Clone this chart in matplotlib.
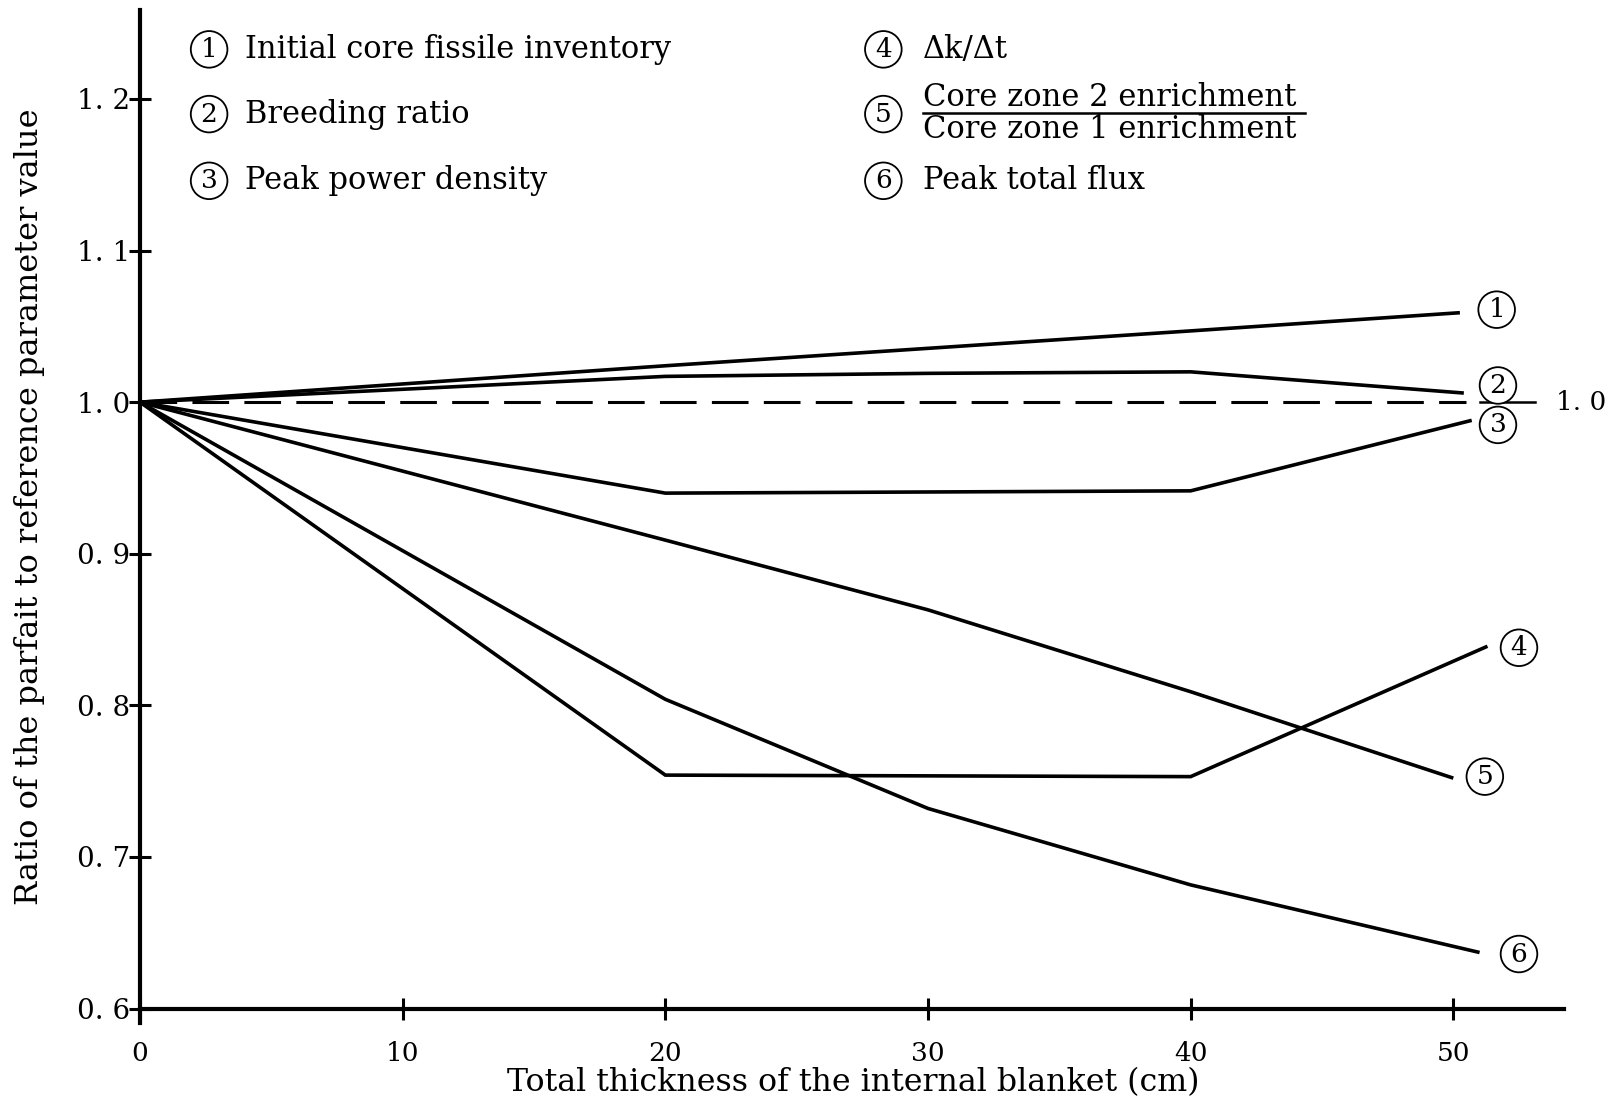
import matplotlib
matplotlib.use("Agg")
import matplotlib.pyplot as plt
from matplotlib.ticker import FuncFormatter

# blanket thickness (cm) and ratio values
x_inventory = [0, 20, 40, 50.25]
y_inventory = [1.0, 1.024, 1.047, 1.059]

x_breeding = [0, 20, 30, 40, 50.4]
y_breeding = [1.0, 1.017, 1.019, 1.02, 1.006]

x_power = [0, 20, 40, 50.7]
y_power = [1.0, 0.940, 0.9415, 0.988]

x_dkdt = [0, 20, 40, 51.3]
y_dkdt = [1.0, 0.754, 0.753, 0.839]

x_enrich = [0, 20, 30, 40, 50.0]
y_enrich = [1.0, 0.909, 0.863, 0.809, 0.752]

x_flux = [0, 20, 30, 40, 51.0]
y_flux = [1.0, 0.804, 0.732, 0.6816, 0.637]

curve_numbers = ["1", "2", "3", "4", "5", "6"]
label_x = [51.65, 51.7, 51.7, 52.5, 51.2, 52.5]
label_y = [1.061, 1.011, 0.985, 0.838, 0.753, 0.636]

legend_left = ["Initial core fissile inventory", "Breeding ratio", "Peak power density"]
legend_right = ["\u0394k/\u0394t", None, "Peak total flux"]
frac_top = "Core zone 2 enrichment"
frac_bottom = "Core zone 1 enrichment"

xticks = [0, 10, 20, 30, 40, 50]
yticks = [0.6, 0.7, 0.8, 0.9, 1.0, 1.1, 1.2]

serif = "DejaVu Serif"

fig = plt.figure(figsize=(16.17, 11.02), dpi=100)
ax = fig.add_axes([0.0866, 0.0717, 0.967 - 0.0866, 0.9907 - 0.0717])
ax.set_xlim(0, 54.2)
ax.set_ylim(0.5905, 1.2585)

lw = 2.6
series = [(x_inventory, y_inventory), (x_breeding, y_breeding), (x_power, y_power),
          (x_dkdt, y_dkdt), (x_enrich, y_enrich), (x_flux, y_flux)]
for xs, ys in series:
    ax.plot(xs, ys, color="black", lw=lw, solid_capstyle="butt", solid_joinstyle="miter")

# reference level
ax.plot([0, 50.5], [1.0, 1.0], color="black", lw=2.2, dashes=(12, 5))
ax.plot([51.0, 53.1], [1.0, 1.0], color="black", lw=1.8, clip_on=False)
ax.text(53.9, 1.0, "1. 0", fontsize=19, family=serif, va="center", ha="left", clip_on=False)

circ = dict(boxstyle="circle,pad=0.22", fc="white", ec="black", lw=1.3)
for n, lx, ly in zip(curve_numbers, label_x, label_y):
    ax.text(lx, ly, n, fontsize=19, family=serif, ha="center", va="center", bbox=circ)

# legend block
leg_y = [1.2327, 1.19, 1.146]
for i, (t, ly) in enumerate(zip(legend_left, leg_y)):
    ax.text(2.63, ly, curve_numbers[i], fontsize=19, family=serif, ha="center", va="center", bbox=circ)
    ax.text(4.0, ly, t, fontsize=22, family=serif, ha="left", va="center")
for i, (t, ly) in enumerate(zip(legend_right, leg_y)):
    ax.text(28.3, ly, curve_numbers[i + 3], fontsize=19, family=serif, ha="center", va="center", bbox=circ)
    if t is not None:
        ax.text(29.8, ly, t, fontsize=22, family=serif, ha="left", va="center")
ax.text(29.8, 1.2007, frac_top, fontsize=22, family=serif, ha="left", va="center")
ax.text(29.8, 1.1796, frac_bottom, fontsize=22, family=serif, ha="left", va="center")
ax.plot([29.8, 44.35], [1.1905, 1.1905], color="black", lw=1.8)

# axes
for s in ["top", "right"]:
    ax.spines[s].set_visible(False)
ax.spines["bottom"].set_position(("data", 0.6))
ax.spines["bottom"].set_linewidth(3.0)
ax.spines["left"].set_linewidth(3.0)

ax.set_xticks(xticks)
ax.set_yticks(yticks)
ax.xaxis.set_major_formatter(FuncFormatter(lambda v, p: "%d" % v))
ax.yaxis.set_major_formatter(FuncFormatter(lambda v, p: ("%.1f" % v).replace(".", ". ")))
ax.tick_params(axis="both", direction="inout", length=16, width=2.2)
ax.tick_params(axis="x", pad=15)
ax.tick_params(axis="y", pad=-1)
for lab in ax.get_xticklabels():
    lab.set_fontfamily(serif)
    lab.set_fontsize(19)
for lab in ax.get_yticklabels():
    lab.set_fontfamily(serif)
    lab.set_fontsize(20)

fig.text(0.5275, 0.0175, "Total thickness of the internal blanket (cm)", fontsize=22.8,
         family=serif, ha="center", va="center")
fig.text(0.018, 0.54, "Ratio of the parfait to reference parameter value", fontsize=23,
         family=serif, ha="center", va="center", rotation=90)

fig.savefig("out.png", dpi=100)
